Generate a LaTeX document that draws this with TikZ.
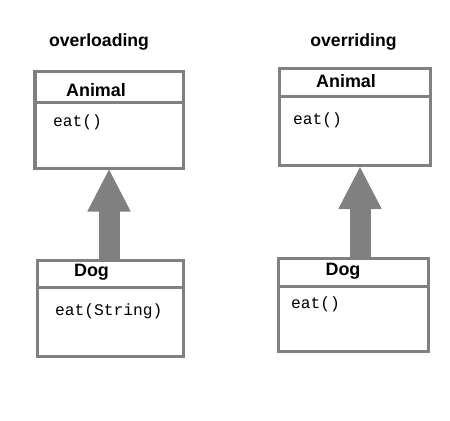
\documentclass[tikz,border=0pt]{standalone}
\usepackage{fontspec}
\setmainfont{Liberation Sans}
\newfontfamily\monofont{Liberation Mono}
\usetikzlibrary{arrows.meta}
\definecolor{boxgray}{RGB}{128,128,128}
\tikzset{
  classbox/.style={draw=boxgray, line width=3bp, rectangle, inner sep=0pt},
  divider/.style={draw=boxgray, line width=3bp},
  titletext/.style={font=\fontsize{17.7}{20}\selectfont\bfseries, inner sep=0pt},
  nametext/.style={font=\fontsize{18}{20}\selectfont\bfseries, inner sep=0pt},
  methodtext/.style={font=\monofont\fontsize{16.3}{18}\selectfont, inner sep=0pt, anchor=west},
  inherit/.style={draw=boxgray, line width=21bp, -{Triangle[width=40bp,length=43bp]}, shorten >=-1bp},
}
\begin{document}
\begin{tikzpicture}[x=1bp,y=-1bp]
\useasboundingbox (0,0) rectangle (450,420);
% left
\node[titletext] (tl) at (99,42) {overloading};
\node[classbox, minimum width=148bp, minimum height=97bp] (animalL) at (109,119.5) {};
\node[classbox, minimum width=146bp, minimum height=96bp] (dogL) at (110.5,308.5) {};
\draw[divider] (animalL.west |- 0,102) -- (animalL.east |- 0,102);
\draw[divider] (dogL.west |- 0,287) -- (dogL.east |- 0,287);
\node[nametext] (anL) at (96,90) {Animal};
\node[methodtext] (meL) at (53,122) {eat()};
\node[nametext] (dnL) at (91.5,272.5) {Dog};
\node[methodtext] (mdL) at (55,311) {eat(String)};
\draw[inherit] (dogL.north -| 109,0) -- (animalL.south);
% right
\node[titletext] (tr) at (353.5,42) {overriding};
\node[classbox, minimum width=151bp, minimum height=97bp] (animalR) at (355,117) {};
\node[classbox, minimum width=150bp, minimum height=93bp] (dogR) at (353.5,305) {};
\draw[divider] (animalR.west |- 0,96) -- (animalR.east |- 0,96);
\draw[divider] (dogR.west |- 0,286) -- (dogR.east |- 0,286);
\node[nametext] (anR) at (346,81) {Animal};
\node[methodtext] (meR) at (293,120) {eat()};
\node[nametext] (dnR) at (343,271.5) {Dog};
\node[methodtext] (mdR) at (291,304) {eat()};
\draw[inherit] (dogR.north -| 360,0) -- (animalR.south -| 360,0);
\end{tikzpicture}
\end{document}
